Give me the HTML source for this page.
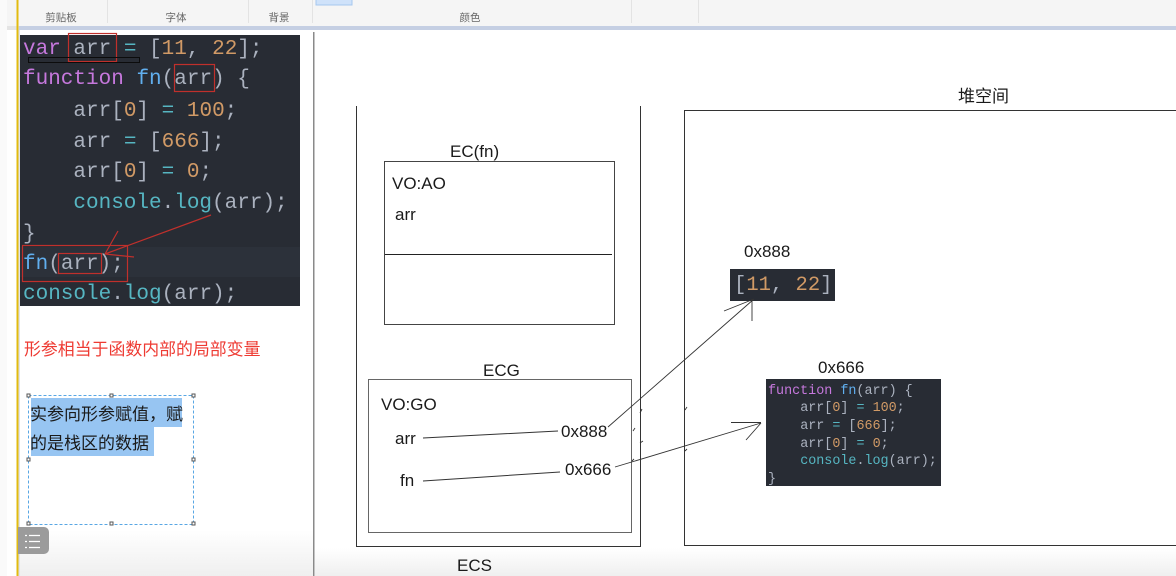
<!DOCTYPE html>
<html><head><meta charset="utf-8"><style>
html,body{margin:0;padding:0;background:#fff;width:1176px;height:576px;overflow:hidden}
svg{display:block}
.c{font-family:"Liberation Mono",monospace;font-size:21px;white-space:pre}
.s{font-family:"Liberation Mono",monospace;font-size:13.4px;white-space:pre}
.l{font-family:"Liberation Sans","Noto Sans CJK SC",sans-serif;font-size:17px;fill:#1a1a1a}
.t{font-family:"Noto Sans CJK SC",sans-serif;font-size:10.5px;fill:#666;text-anchor:middle}
.z{font-family:"Noto Sans CJK SC",sans-serif;font-size:17px;fill:#1a1a1a}
</style></head><body>
<svg width="1176" height="576" viewBox="0 0 1176 576" xmlns="http://www.w3.org/2000/svg">
<defs><linearGradient id="g" x1="0" y1="0" x2="0" y2="1"><stop offset="0" stop-color="#fff"/><stop offset="1" stop-color="#efefef"/></linearGradient></defs>
<rect width="1176" height="576" fill="#fff"/>
<!-- toolbar -->
<rect width="1176" height="26" fill="#f5f5f5"/>
<rect y="26" width="1176" height="4" fill="#c5cfe3"/>
<rect x="0" y="26" width="19" height="4" fill="#e4e4e4"/>
<g stroke="#e3e3e3"><path d="M107.500 0V23M248.500 0V23M312.500 0V23M631.500 0V23M698.500 0V23"/></g>
<rect x="316" y="-2" width="36" height="7" fill="#cfe2fa" stroke="#a6c8ee"/>
<text class="t" x="61" y="21">剪贴板</text><text class="t" x="176" y="21">字体</text><text class="t" x="279" y="21">背景</text><text class="t" x="470" y="21">颜色</text>
<!-- left edges -->
<rect x="0" y="0" width="7" height="576" fill="#fafafa"/>
<rect x="16.500" y="0" width="2" height="576" fill="#e2bb10"/>
<rect x="18.500" y="30" width="1.500" height="546" fill="#dfe3ec"/>
<rect x="313" y="32" width="1.500" height="544" fill="#8a8a8a"/>
<rect x="20" y="530" width="293" height="46" fill="url(#g)"/>
<rect x="315" y="548" width="861" height="28" fill="url(#g)"/>
<!-- main code -->
<rect x="20" y="35" width="280" height="271" fill="#282c34"/>
<rect x="20" y="247" width="280" height="30" fill="#2c313a"/>
<g class="c" fill="#abb2bf">
<text x="23" y="54"><tspan fill="#c678dd">var</tspan> arr <tspan fill="#56b6c2">=</tspan> [<tspan fill="#d19a66">11</tspan>, <tspan fill="#d19a66">22</tspan>];</text>
<text x="23" y="84"><tspan fill="#c678dd">function</tspan> <tspan fill="#61afef">fn</tspan>(arr) {</text>
<text x="73.400" y="116">arr[<tspan fill="#d19a66">0</tspan>] <tspan fill="#56b6c2">=</tspan> <tspan fill="#d19a66">100</tspan>;</text>
<text x="73.400" y="147">arr <tspan fill="#56b6c2">=</tspan> [<tspan fill="#d19a66">666</tspan>];</text>
<text x="73.400" y="177">arr[<tspan fill="#d19a66">0</tspan>] <tspan fill="#56b6c2">=</tspan> <tspan fill="#d19a66">0</tspan>;</text>
<text x="73.400" y="208"><tspan fill="#56b6c2">console</tspan>.<tspan fill="#56b6c2">log</tspan>(arr);</text>
<text x="23" y="239">}</text>
<text x="23" y="269"><tspan fill="#61afef">fn</tspan>(arr);</text>
<text x="23" y="299"><tspan fill="#56b6c2">console</tspan>.<tspan fill="#56b6c2">log</tspan>(arr);</text>
</g>
<g fill="none" stroke="#c0302c" stroke-width="1.200">
<rect x="68.500" y="33.500" width="48" height="28"/>
<rect x="174.500" y="64.500" width="40" height="27"/>
<rect x="22.500" y="245.500" width="105" height="36"/>
<rect x="58.500" y="253.500" width="43" height="20"/>
<path d="M211 215L105 254M118 231L105 254M105 254L134 257"/>
</g>
<rect x="28.500" y="57.500" width="111" height="5" fill="none" stroke="#0c0c0c"/>
<!-- red note -->
<text x="24" y="355" font-family="Noto Sans CJK SC, sans-serif" font-size="16.900" fill="#ee3a32">形参相当于函数内部的局部变量</text>
<!-- selected text box -->
<rect x="31" y="398" width="151" height="29" fill="#97c5f2"/>
<rect x="31" y="427" width="123" height="29" fill="#97c5f2"/>
<rect x="28.500" y="395.500" width="165" height="129" fill="none" stroke="#58a7e4" stroke-dasharray="3 2"/>
<text class="z" x="30" y="420">实参向形参赋值，赋</text>
<text class="z" x="30" y="449">的是栈区的数据</text>
<g fill="#fff" stroke="#555"><rect x="27" y="394" width="3" height="3"/><rect x="110" y="394" width="3" height="3"/><rect x="192" y="394" width="3" height="3"/><rect x="27" y="458" width="3" height="3"/><rect x="192" y="458" width="3" height="3"/><rect x="27" y="522" width="3" height="3"/><rect x="110" y="522" width="3" height="3"/><rect x="192" y="522" width="3" height="3"/></g>
<path d="M18 527H44a5 5 0 0 1 5 5V549a5 5 0 0 1-5 5H18Z" fill="#9b9b9b"/>
<path d="M29 535.500h11M29 541.500h11M29 547.500h11M25 535.500h2M25 541.500h2M25 547.500h2" stroke="#fff" stroke-width="1.300"/>
<!-- ECS -->
<path d="M356.500 106V546.500H640.500V106" fill="none" stroke="#333"/>
<rect x="384.500" y="161.500" width="230" height="163" fill="#fff" stroke="#444"/>
<path d="M385 254.500H612" stroke="#222"/>
<rect x="368.500" y="379.500" width="263" height="153" fill="#fff" stroke="#666"/>
<text class="l" x="450" y="157">EC(fn)</text>
<text class="l" x="392" y="189">VO:AO</text>
<text class="l" x="395" y="220">arr</text>
<text class="l" x="483" y="376">ECG</text>
<text class="l" x="381" y="410">VO:GO</text>
<text class="l" x="395" y="444">arr</text>
<text class="l" x="400" y="486">fn</text>
<text class="l" x="561" y="437">0x888</text>
<text class="l" x="565" y="475">0x666</text>
<text class="l" x="457" y="571">ECS</text>
<path d="M423 438L558 431M423 481L560 472" stroke="#333" fill="none"/>
<!-- heap -->
<path d="M1176 110.500H684.500V545.500H1176" fill="none" stroke="#333"/>
<text class="z" x="958" y="102">堆空间</text>
<text class="l" x="744" y="257">0x888</text>
<text class="l" x="818" y="373">0x666</text>
<rect x="730" y="269" width="105" height="32" fill="#282c34"/>
<text x="734" y="290" font-family="Liberation Mono,monospace" font-size="20.500" fill="#abb2bf">[<tspan fill="#d19a66">11</tspan>, <tspan fill="#d19a66">22</tspan>]</text>
<rect x="766" y="379" width="175" height="107" fill="#282c34"/>
<g class="s" fill="#abb2bf">
<text x="768" y="394"><tspan fill="#c678dd">function</tspan> <tspan fill="#61afef">fn</tspan>(arr) {</text>
<text x="800.200" y="411">arr[<tspan fill="#d19a66">0</tspan>] <tspan fill="#56b6c2">=</tspan> <tspan fill="#d19a66">100</tspan>;</text>
<text x="800.200" y="429">arr <tspan fill="#56b6c2">=</tspan> [<tspan fill="#d19a66">666</tspan>];</text>
<text x="800.200" y="447">arr[<tspan fill="#d19a66">0</tspan>] <tspan fill="#56b6c2">=</tspan> <tspan fill="#d19a66">0</tspan>;</text>
<text x="800.200" y="464"><tspan fill="#56b6c2">console</tspan>.<tspan fill="#56b6c2">log</tspan>(arr);</text>
<text x="768" y="482">}</text>
</g>
<g fill="none" stroke="#333" stroke-width="0.900">
<path d="M608 427L754 299M724 311L754 299M752 321V299"/>
<path d="M615 467L761 423M731 422.500H761M746 440L761 423"/>
<path d="M642 409L640 413M635 428L633 431M643 441L640 443M634 459L632 461M687 407L685 410M687 449L685 451"/>
</g>
</svg>
</body></html>
